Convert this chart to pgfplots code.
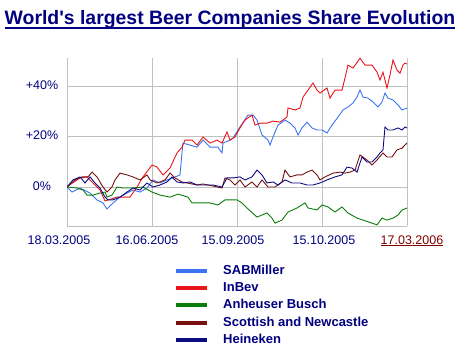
\documentclass[border=0pt]{standalone}
\usepackage{fontspec}
\setmainfont{Liberation Sans}
\usepackage{pgfplots}
\pgfplotsset{compat=1.18}
\definecolor{navyt}{RGB}{0,0,128}
\definecolor{lsab}{RGB}{60,115,240}
\definecolor{linb}{RGB}{235,20,25}
\definecolor{lab}{RGB}{10,125,10}
\definecolor{lsn}{RGB}{120,16,16}
\definecolor{lhei}{RGB}{12,12,128}
\definecolor{ttred}{RGB}{128,0,0}
\definecolor{gridg}{RGB}{192,192,192}
\newcommand\sh[2]{\hbox{\kern#1 #2\kern-#1}}
\begin{document}
\begin{tikzpicture}
\useasboundingbox (0,0) rectangle (461bp,353bp);
\node[anchor=base, inner sep=0pt, text=navyt, font=\fontsize{19.4bp}{23bp}\selectfont\bfseries] (t) at (230bp,328bp) {World\textquotesingle s largest Beer Companies Share Evolution};
\draw[navyt, line width=2bp] ([yshift=-2.8bp]t.base west) -- ([yshift=-2.8bp]t.base east);
\begin{axis}[
  at={(67bp,127bp)}, anchor=south west,
  scale only axis, width=340bp, height=168bp,
  xmin=0, xmax=340, ymin=-15.44, ymax=51.1,
  axis lines=left, axis line style={-, gridg, line width=1bp},
  xtick={0,85,170,255,340},
  xticklabels={\sh{-8bp}{18.03.2005},\sh{-5bp}{16.06.2005},\sh{-4bp}{15.09.2005},\sh{2bp}{15.10.2005},\sh{5bp}{\textcolor{ttred}{\underline{17.03.2006}}}},
  ytick={0,20,40}, yticklabels={0\%,+20\%,+40\%},
  major tick length=0pt,
  grid=major, major grid style={gridg, line width=1bp},
  tick label style={font=\fontsize{12.5bp}{14bp}\selectfont, text=navyt, inner sep=0pt},
  xticklabel style={anchor=base, yshift=-18bp},
  yticklabel style={anchor=base, xshift=-25bp, yshift=-3bp},
  /pgf/number format/assume math mode=true,
  every axis plot/.append style={line width=0.9bp, line join=miter},
  legend style={draw=none, fill=none, at={(0.3147,-0.226)}, anchor=north west,
    inner sep=0pt, row sep=4.3bp, text=navyt,
    font=\fontsize{13bp}{15bp}\selectfont\bfseries,
    nodes={inner sep=0pt, text height=10bp, text depth=3bp},
    /tikz/every odd column/.append style={column sep=14bp}},
  legend cell align=left,
  legend image code/.code={\draw[#1, line width=4bp] (0bp,0bp) -- (31bp,0bp);},
]
\addplot[lsab] coordinates {
(0,0) (5,-2.0) (13,-0.4) (23,-2.4) (30,-5.1) (36,-6.3) (40,-8.7) (46,-6.3) (53,-4.0) (60,-2.4) (66,-1.2) (73,-2.0) (80,-0.4) (86,2.8) (93,1.6) (100,2.8) (106,3.6) (113,4.8) (115,13.5) (116,17.4) (123,16.6) (130,15.8) (136,18.6) (143,15.8) (151,15.8) (155,13.5) (156,17.4) (163,18.6) (166,19.4) (173,23.8) (181,28.5) (186,28.5) (190,26.5) (195,20.6) (201,18.6) (203,16.6) (206,19.8) (211,24.5) (218,26.5) (223,25.3) (228,23.4) (231,20.6) (235,23.4) (240,25.7) (245,23.4) (250,22.6) (255,22.6) (260,21.4) (265,24.5) (271,27.7) (276,30.5) (281,31.7) (286,33.3) (290,35.6) (293,38.4) (296,35.6) (301,35.2) (306,33.7) (311,31.7) (315,33.7) (318,37.2) (321,35.2) (326,34.5) (331,32.5) (335,30.5) (340,31.3)
};
\addlegendentry{SABMiller}
\addplot[linb] coordinates {
(0,0.1) (13,3.6) (20,4.0) (33,-1.2) (38,-5.5) (50,-4.0) (63,-4.0) (70,0) (76,4.0) (85,8.7) (90,7.9) (96,4.8) (103,7.5) (110,13.5) (115,15.8) (118,18.6) (125,18.6) (130,16.6) (136,19.8) (143,17.4) (150,18.6) (155,17.4) (160,21.8) (163,18.6) (168,19.8) (173,23.4) (178,26.5) (185,28.5) (188,24.5) (193,25.3) (200,25.3) (206,26.1) (213,25.7) (220,27.7) (221,31.3) (228,30.5) (233,31.3) (236,35.6) (241,38.4) (246,41.2) (250,38.4) (253,37.2) (260,39.2) (263,35.2) (268,38.4) (275,38.4) (278,43.2) (281,48.3) (286,47.1) (293,51.0) (298,48.3) (305,48.3) (310,45.5) (313,42.4) (316,45.5) (320,39.2) (323,44.4) (326,50.3) (330,46.3) (333,45.1) (336,48.3) (338,49.1) (340,48.7)
};
\addlegendentry{InBev}
\addplot[lab] coordinates {
(0,0) (10,-0.4) (16,-1.2) (20,-3.2) (26,-3.2) (33,-2.4) (38,-2.0) (40,-4.0) (45,-3.2) (50,0) (56,-0.4) (65,-0.4) (76,0) (85,-2.0) (93,-3.2) (103,-4.0) (111,-2.8) (121,-4.0) (125,-6.3) (133,-6.3) (143,-6.3) (151,-7.1) (158,-5.1) (166,-5.1) (170,-5.1) (175,-6.3) (180,-8.3) (190,-11.9) (200,-10.3) (205,-12.3) (208,-14.3) (215,-13.1) (221,-9.9) (230,-8.3) (238,-6.3) (241,-8.3) (250,-9.1) (255,-7.1) (261,-7.9) (268,-9.9) (275,-7.9) (281,-10.3) (290,-12.3) (296,-13.1) (305,-14.3) (310,-15.0) (315,-12.3) (320,-13.1) (326,-12.3) (331,-11.1) (335,-9.1) (340,-8.3)
};
\addlegendentry{Anheuser Busch}
\addplot[lsn] coordinates {
(0,0) (8,2.8) (15,4.0) (21,4.0) (25,5.9) (30,4.0) (33,2.0) (36,0) (40,-2.0) (45,0) (48,2.8) (53,5.5) (60,4.8) (66,4.0) (73,2.8) (80,4.8) (83,2.8) (90,1.6) (98,2.8) (103,5.5) (108,3.6) (115,2.0) (120,1.6) (130,0.8) (136,1.2) (146,0.4) (155,-0.4) (158,3.6) (163,2.8) (168,0.8) (173,2.8) (178,0) (185,2.0) (190,0) (195,2.8) (201,0) (208,0) (215,2.0) (218,6.7) (223,4.0) (230,4.8) (235,4.8) (240,5.9) (245,6.7) (250,4.8) (253,2.8) (258,4.0) (266,5.5) (273,5.9) (278,5.5) (283,5.9) (288,6.7) (293,12.7) (300,10.7) (305,8.7) (310,10.7) (316,13.5) (320,11.9) (325,11.9) (330,14.7) (335,15.4) (340,17.4)
};
\addlegendentry{Scottish and Newcastle}
\addplot[lhei] coordinates {
(0,0) (6,2.8) (13,4.0) (18,1.6) (23,4.0) (28,1.6) (33,-0.4) (38,-4.0) (41,-5.1) (46,-5.1) (53,-4.0) (60,-2.0) (66,-0.4) (73,-1.2) (80,1.6) (86,0) (93,0.8) (100,2.0) (105,4.0) (110,2.0) (116,1.6) (123,2.0) (130,0.8) (136,0.8) (146,0.8) (155,0) (160,3.6) (166,3.6) (173,4.0) (178,2.8) (185,4.0) (190,6.7) (195,4.8) (200,1.6) (206,2.0) (211,0.8) (218,2.8) (225,1.6) (233,1.6) (240,0.8) (246,0.8) (253,1.6) (260,2.8) (268,4.0) (275,4.8) (280,7.9) (285,7.5) (290,5.9) (295,11.9) (300,9.9) (305,9.9) (310,11.9) (313,13.5) (316,14.7) (318,23.8) (321,22.6) (326,22.6) (331,23.4) (335,22.6) (338,23.8) (340,23.4)
};
\addlegendentry{Heineken}
\end{axis}
\end{tikzpicture}
\end{document}
